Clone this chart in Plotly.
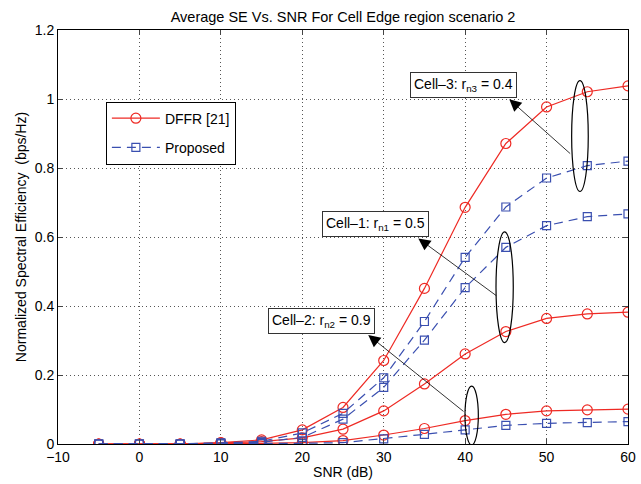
import plotly.graph_objects as go

snr = [-5, 0, 5, 10, 15, 20, 25, 30, 35, 40, 45, 50, 55, 60]

# DFFR [21]
dffr_cell3 = [0, 0, 0, 0.004, 0.012, 0.041, 0.106, 0.242, 0.451, 0.686, 0.871, 0.977, 1.021, 1.038]
dffr_cell1 = [0, 0, 0, 0.003, 0.007, 0.018, 0.043, 0.096, 0.174, 0.261, 0.326, 0.364, 0.377, 0.382]
dffr_cell2 = [0, 0, 0, 0.001, 0.002, 0.004, 0.010, 0.026, 0.045, 0.068, 0.086, 0.096, 0.099, 0.101]

# Proposed
prop_cell3 = [0, 0, 0, 0.003, 0.008, 0.032, 0.089, 0.192, 0.355, 0.541, 0.687, 0.771, 0.807, 0.820]
prop_cell1 = [0, 0, 0, 0.002, 0.005, 0.019, 0.072, 0.164, 0.301, 0.453, 0.570, 0.633, 0.659, 0.667]
prop_cell2 = [0, 0, 0, 0.000, 0.001, 0.002, 0.004, 0.015, 0.028, 0.041, 0.054, 0.060, 0.062, 0.065]

x_ticks = [-10, 0, 10, 20, 30, 40, 50, 60]
y_ticks = [0, 0.2, 0.4, 0.6, 0.8, 1, 1.2]
y_tick_text = ["0", "0.2", "0.4", "0.6", "0.8", "1", "1.2"]

RED = "#ee2a24"
BLUE = "#3a4fb0"
FONT = "Liberation Sans, Arial, sans-serif"
FS = 14

fig = go.Figure()

for i, ys in enumerate([dffr_cell3, dffr_cell1, dffr_cell2]):
    fig.add_trace(go.Scatter(
        x=snr, y=ys, mode="lines+markers", name="DFFR [21]",
        showlegend=(i == 0), legendgroup="dffr",
        line=dict(color=RED, width=1.2),
        marker=dict(symbol="circle-open", size=10, color=RED, line=dict(width=1.2)),
    ))

for i, ys in enumerate([prop_cell3, prop_cell1, prop_cell2]):
    fig.add_trace(go.Scatter(
        x=snr, y=ys, mode="lines+markers", name="Proposed",
        showlegend=(i == 0), legendgroup="prop",
        line=dict(color=BLUE, width=1.2, dash="9px,6px"),
        marker=dict(symbol="square-open", size=8, color=BLUE, line=dict(width=1.2)),
    ))

# Ellipses grouping the curves of each cell
ellipses = [
    (53.08, 55.12, 0.732, 1.053),
    (43.79, 45.91, 0.294, 0.615),
    (39.98, 41.62, -0.003, 0.168),
]
for x0, x1, y0, y1 in ellipses:
    fig.add_shape(type="circle", xref="x", yref="y", x0=x0, x1=x1, y0=y0, y1=y1,
                  line=dict(color="black", width=1.2), layer="above")

# Arrows from ellipses to labels: (tail x, tail y, head x, head y)
arrows = [
    (53.08, 0.838, 45.42, 0.999),
    (44.0, 0.427, 34.25, 0.596),
    (39.98, 0.091, 28.1, 0.316),
]
for tx, ty, hx, hy in arrows:
    fig.add_annotation(x=hx, y=hy, ax=tx, ay=ty, xref="x", yref="y", axref="x", ayref="y",
                       text="", showarrow=True, arrowhead=2, arrowsize=3.0,
                       arrowwidth=0.8, arrowcolor="black")

labels = [
    (39.74, 1.04, "Cell\u20133: r<sub>n3</sub> = 0.4"),
    (28.97, 0.639, "Cell\u20131: r<sub>n1</sub> = 0.5"),
    (22.42, 0.357, "Cell\u20132: r<sub>n2</sub> = 0.9"),
]
for lx, ly, txt in labels:
    fig.add_annotation(x=lx, y=ly, xref="x", yref="y", text=txt, showarrow=False,
                       font=dict(family=FONT, size=FS, color="black"),
                       bgcolor="white", bordercolor="#333", borderwidth=1, borderpad=3)

fig.update_layout(
    width=641, height=484,
    margin=dict(l=58, r=13, t=30, b=40),
    paper_bgcolor="white", plot_bgcolor="white",
    font=dict(family=FONT, size=FS, color="black"),
    title=dict(text="Average SE Vs. SNR For Cell Edge region scenario 2",
               x=(58 + 628) / 2 / 641, xanchor="center", y=1 - 17 / 484, yanchor="middle",
               font=dict(size=14.5, family=FONT, color="black")),
    legend=dict(x=0.084, y=0.827, xanchor="left", yanchor="top",
                bordercolor="black", borderwidth=1, bgcolor="white",
                font=dict(size=FS, family=FONT), tracegroupgap=8, itemwidth=48),
    showlegend=True,
)

grid = dict(showgrid=True, gridcolor="#555", griddash="1px,3px", gridwidth=1)

fig.update_xaxes(
    range=[-10, 60], tickvals=x_ticks, ticks="inside", ticklen=5, automargin=False,
    showline=True, linecolor="black", linewidth=1, mirror="allticks",
    zeroline=False, title=dict(text="SNR (dB)", standoff=3, font=dict(size=FS)),
    tickfont=dict(size=FS), **grid,
)
fig.update_yaxes(
    range=[0, 1.2], tickvals=y_ticks, ticktext=y_tick_text, ticks="inside", ticklen=5,
    automargin=False,
    showline=True, linecolor="black", linewidth=1, mirror="allticks",
    zeroline=False,
    title=dict(text="Normalized Spectral Efficiency  (bps/Hz)", standoff=4, font=dict(size=FS)),
    tickfont=dict(size=FS), **grid,
)

fig.write_html("out.html")
